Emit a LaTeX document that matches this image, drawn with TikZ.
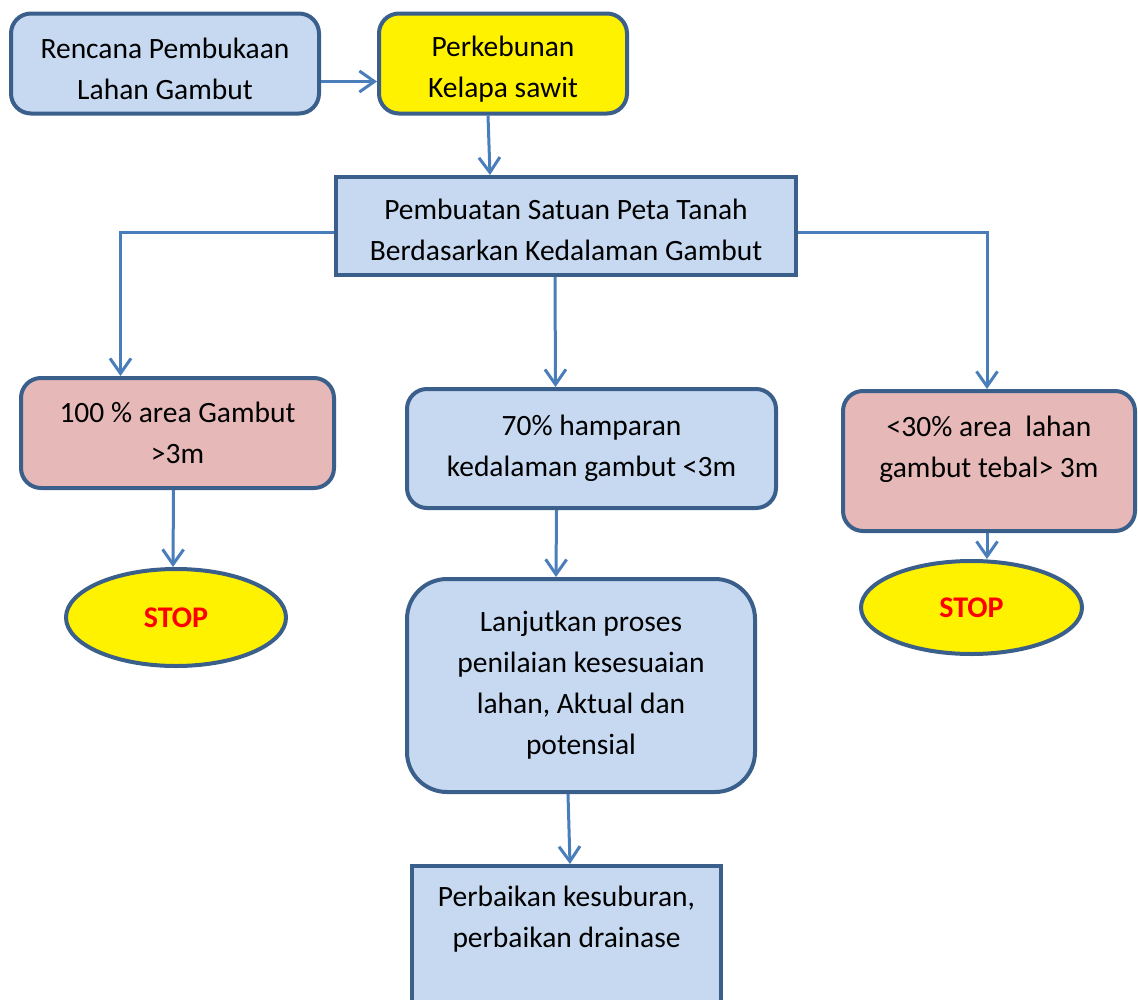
\documentclass[tikz,border=0pt]{standalone}
\usepackage{fontspec}
\setmainfont{Carlito}
\usepackage{tikz}
\usetikzlibrary{shapes,arrows,arrows.meta,positioning}

\definecolor{BoxLine}{HTML}{3A5F8B}
\definecolor{BlueFill}{HTML}{C6D9F1}
\definecolor{PinkFill}{HTML}{E6B9B8}
\definecolor{ArrowLine}{HTML}{4A7EBB}

\begin{document}
\begin{tikzpicture}[x=1pt, y=-1pt, >={Straight Barb[length=15pt,width=21pt]}]
		\tikzstyle{Box}		= [rectangle, draw=BoxLine, line width=4pt, align=center, inner sep=0pt, font=\fontsize{29.5}{41}\selectfont]
		\tikzstyle{Round}	= [Box, rounded corners=20pt]
		\tikzstyle{Blue}	= [fill=BlueFill]
		\tikzstyle{Pink}	= [fill=PinkFill]
		\tikzstyle{Yellow}	= [fill=yellow]
		\tikzstyle{Stop}	= [ellipse, draw=BoxLine, line width=4pt, fill=yellow, inner sep=0pt, text=red, font=\fontsize{30}{34}\selectfont\bfseries]
		\tikzstyle{Flow}	= [line width=3pt, ArrowLine]
		
		\clip (0,0) rectangle (1138,999);
		
		\node (plan) at (165,63.5) [Round][Blue, minimum width=308, minimum height=100] {\rule{0pt}{32pt}Rencana Pembukaan\\ Lahan Gambut};
		\node (sawit) at (503,63.5) [Round][Yellow, minimum width=248, minimum height=100] {\rule{0pt}{32pt}Perkebunan\\ Kelapa sawit};
		\node (peta) at (566,226) [Box][Blue, minimum width=460, minimum height=98] {\rule{0pt}{28.5pt}Pembuatan Satuan Peta Tanah\\ Berdasarkan Kedalaman Gambut};
		\node (full) at (177.5,433) [Round][Pink, minimum width=313, minimum height=110] {100 \% area Gambut\\ >3m};
		\node (part) at (591.5,448.5) [Round][Blue, minimum width=369, minimum height=119] {70\% hamparan\\ kedalaman gambut <3m};
		\node (thin) at (989,461) [Round][Pink, minimum width=292, minimum height=140] {<30\% area\ \ lahan\\ gambut tebal> 3m\rule[-28pt]{0pt}{0pt}};
		\node (stopA) at (176,617.5) [Stop][minimum width=220, minimum height=97] {STOP};
		\node (stopB) at (971.5,607.5) [Stop][minimum width=221, minimum height=93] {STOP};
		\node (lanjut) at (581,685.5) [Round][Blue, rounded corners=40pt, minimum width=348, minimum height=213] {Lanjutkan proses\\ penilaian kesesuaian\\ lahan, Aktual dan\\ potensial};
		\node (fix) at (566.5,937) [Box][Blue, minimum width=309, minimum height=142] {Perbaikan kesuburan,\\ perbaikan drainase\\ \mbox{}};
		
		\draw [->] ([yshift=-18pt]plan.east) to ([yshift=-18pt]sawit.west) [Flow];
		\draw [->] ([xshift=-15pt]sawit.south) to ([xshift=-76pt]peta.north) [Flow];
		\draw [->] ([yshift=-6pt]peta.west) -| ([xshift=-57pt]full.north) [Flow];
		\draw [->] ([xshift=-11pt]peta.south) to ([xshift=-36pt]part.north) [Flow];
		\draw [->] ([yshift=-6pt]peta.east) -| ([xshift=-2pt]thin.north) [Flow];
		\draw [->] ([xshift=-4pt]full.south) to ([xshift=-3pt]stopA.north) [Flow];
		\draw [->] ([xshift=-2pt]thin.south) to ([xshift=-2pt]thin.south |- stopB.north) [Flow];
		\draw [->] ([xshift=-35pt]part.south) to ([xshift=-25pt]lanjut.north) [Flow];
		\draw [->] ([xshift=-13pt]lanjut.south) to ([xshift=3.5pt]fix.north) [Flow];
	\end{tikzpicture}
\end{document}
